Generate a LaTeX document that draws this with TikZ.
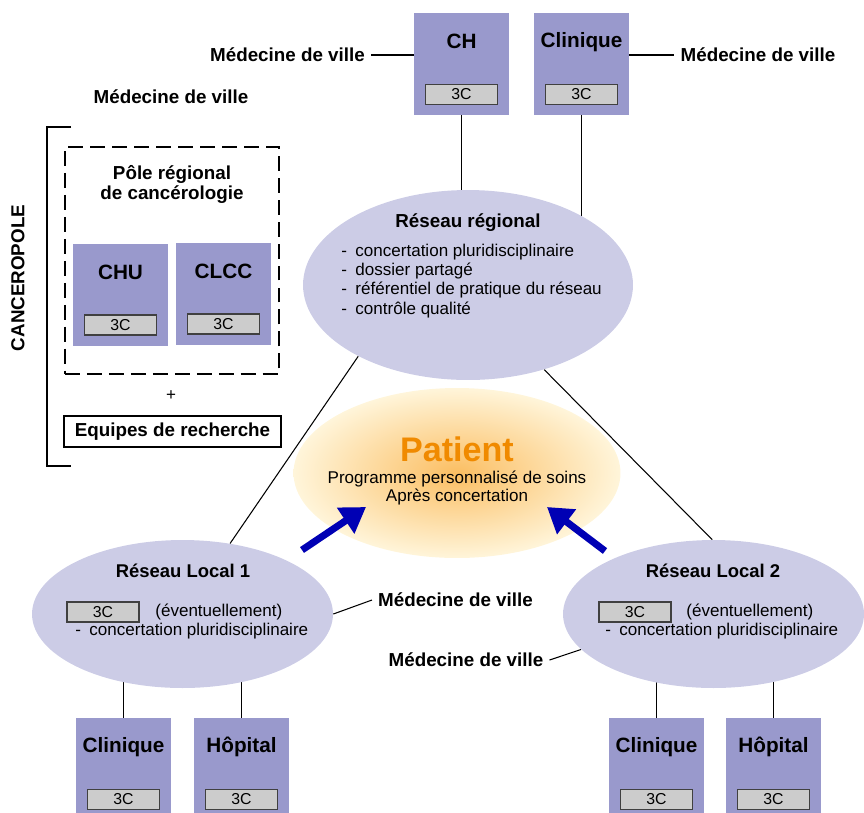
\documentclass[tikz,border=0pt]{standalone}
\usepackage{fontspec}
\setmainfont{Liberation Sans}
\usetikzlibrary{shapes.geometric,arrows.meta,calc,backgrounds}

\definecolor{violetboite}{RGB}{153,153,204}
\definecolor{lavande}{RGB}{204,204,230}
\definecolor{gris3c}{RGB}{204,204,204}
\definecolor{orangepatient}{RGB}{240,138,0}
\definecolor{bleufleche}{RGB}{0,0,180}
\definecolor{centrehalo}{RGB}{251,190,98}
\definecolor{bordhalo}{RGB}{255,245,218}

\tikzset{
    etab/.style={fill=violetboite, minimum width=1.9cm, minimum height=2.04cm, inner sep=0pt},
    troisc/.style={fill=gris3c, draw=black!75, line width=0.9pt, minimum width=1.44cm,
        minimum height=0.4cm, inner sep=0pt, font=\fontsize{9}{10}\selectfont},
    titre/.style={font=\fontsize{11.8}{14}\selectfont\bfseries},
    gras/.style={font=\fontsize{10.7}{11.9}\selectfont\bfseries, align=center},
    texte/.style={font=\fontsize{9.7}{10.9}\selectfont, align=left},
    reseau/.style={ellipse, fill=lavande, inner sep=0pt},
    pole/.style={draw, line width=1.3pt, dash pattern=on 8.5pt off 4pt,
        minimum width=4.28cm, minimum height=4.54cm, inner sep=0pt},
    lien/.style={line width=0.6pt},
    fleche/.style={bleufleche, line width=4pt, -{Triangle[length=14pt,width=17pt]}},
}

% boite d'etablissement avec son 3C
\newcommand{\etablissement}[3]{%
    \node[etab] (#1) at (#2) {};
    \node[titre] (#1-titre) at ($(#1.north)+(0,29)$) {#3};
    \node[troisc] (#1-3c) at ($(#1.south)+(0,-21)$) {3C};
}
\newcommand{\tiret}{\makebox[8pt][l]{-}}

\begin{document}
\begin{tikzpicture}[x=0.02cm, y=-0.02cm]
    \useasboundingbox (0,0) rectangle (864,812);

    %etablissements du haut
    \etablissement{ch}{461.5,64}{CH}
    \etablissement{clin}{581.5,64}{Clinique}

    %medecine de ville
    \node[gras] (med1) at (287.5,55) {Médecine de ville};
    \node[gras] (med2) at (758,55) {Médecine de ville};
    \node[gras] (med0) at (171,97) {Médecine de ville};
    \draw[lien] (med1.east) -- (med1.east -| ch.west);
    \draw[lien] (clin.east |- med2.west) -- (med2.west);

    %reseau regional
    \node[reseau, minimum width=6.6cm, minimum height=3.8cm] (regional) at (468,285) {};
    \node[gras] (regtitre) at (468,223) {Réseau régional};
    \node[texte, anchor=west, inner sep=0pt] (regliste) at (341,281)
        {\tiret concertation pluridisciplinaire\\
         \tiret dossier partagé\\
         \tiret référentiel de pratique du réseau\\
         \tiret contrôle qualité};

    %canceropole
    \draw[lien] (71,127) -- (47,127) -- (47,466) -- (71,466);
    \node[gras, rotate=90] (cancero) at (18,278) {CANCEROPOLE};
    \node[pole] (pole) at (172,260.5) {};
    \node[gras] (poletitre) at (172,184.5) {Pôle régional\\de cancérologie};
    \etablissement{chu}{120.5,294.5}{CHU}
    \etablissement{clcc}{223.5,293.5}{CLCC}
    \node[texte] (plus) at (171,396) {+};
    \node[gras, draw, line width=1pt, minimum width=4.34cm, minimum height=0.62cm,
        inner sep=0pt] (equipes) at (172.5,431.5) {Equipes de recherche};

    %patient
    \node[ellipse, minimum width=6.54cm, minimum height=3.4cm, inner sep=0pt,
        inner color=centrehalo, outer color=bordhalo] (patient) at (457,473) {};
    \node[font=\fontsize{19.4}{22}\selectfont\bfseries, text=orangepatient] (patienttitre)
        at (457,449) {Patient};
    \node[texte, align=center, font=\fontsize{9.7}{10.3}\selectfont] (pps) at (457,488)
        {Programme personnalisé de soins\\Après concertation};

    %reseau local 1
    \node[reseau, minimum width=6.02cm, minimum height=2.96cm] (local1) at (182.5,614) {};
    \node[font=\fontsize{10.5}{12}\selectfont\bfseries] (local1-titre) at (183,571) {Réseau Local 1};
    \node[troisc] (local1-3c) at (103,612) {3C};
    \node[texte, anchor=west, inner sep=0pt] (local1-ev) at (155,612) {(éventuellement)};
    \node[texte, anchor=west, inner sep=0pt] (local1-cp) at (75,631) {\tiret concertation pluridisciplinaire};

    %reseau local 2
    \node[reseau, minimum width=6.02cm, minimum height=2.96cm] (local2) at (713.5,614) {};
    \node[font=\fontsize{10.5}{12}\selectfont\bfseries] (local2-titre) at (713,571) {Réseau Local 2};
    \node[troisc] (local2-3c) at (635,612) {3C};
    \node[texte, anchor=west, inner sep=0pt] (local2-ev) at (686,612) {(éventuellement)};
    \node[texte, anchor=west, inner sep=0pt] (local2-cp) at (605,631) {\tiret concertation pluridisciplinaire};

    \node[gras] (med3) at (455.5,600) {Médecine de ville};
    \node[gras] (med4) at (466,660) {Médecine de ville};

    %etablissements du bas
    \etablissement{clinl}{123.5,769}{Clinique}
    \etablissement{hopl}{241.5,769}{Hôpital}
    \etablissement{clinr}{656.5,769}{Clinique}
    \etablissement{hopr}{773.5,769}{Hôpital}

    %fleches vers le patient
    \draw[fleche] ($(local1)+(119.5,-64)$) -- ($(patient)+(-91,34)$);
    \draw[fleche] ($(local2)+(-108.5,-63)$) -- ($(patient)+(90,34)$);

    %liaisons
    \begin{scope}[on background layer]
        \draw[lien] (ch) -- (ch |- regional);
        \draw[lien] (clin) -- (clin |- regional);
        \draw[lien] (regional.213) -- (local1.56);
        \draw[lien] (regional.312) -- (local2.91);
        \draw[lien] (med3.west) -- (local1.east);
        \draw[lien] (med4.east) -- (local2.195);
        \draw[lien] (clinl) -- (clinl |- local1);
        \draw[lien] (hopl) -- (hopl |- local1);
        \draw[lien] (clinr) -- (clinr |- local2);
        \draw[lien] (hopr) -- (hopr |- local2);
    \end{scope}
\end{tikzpicture}
\end{document}
